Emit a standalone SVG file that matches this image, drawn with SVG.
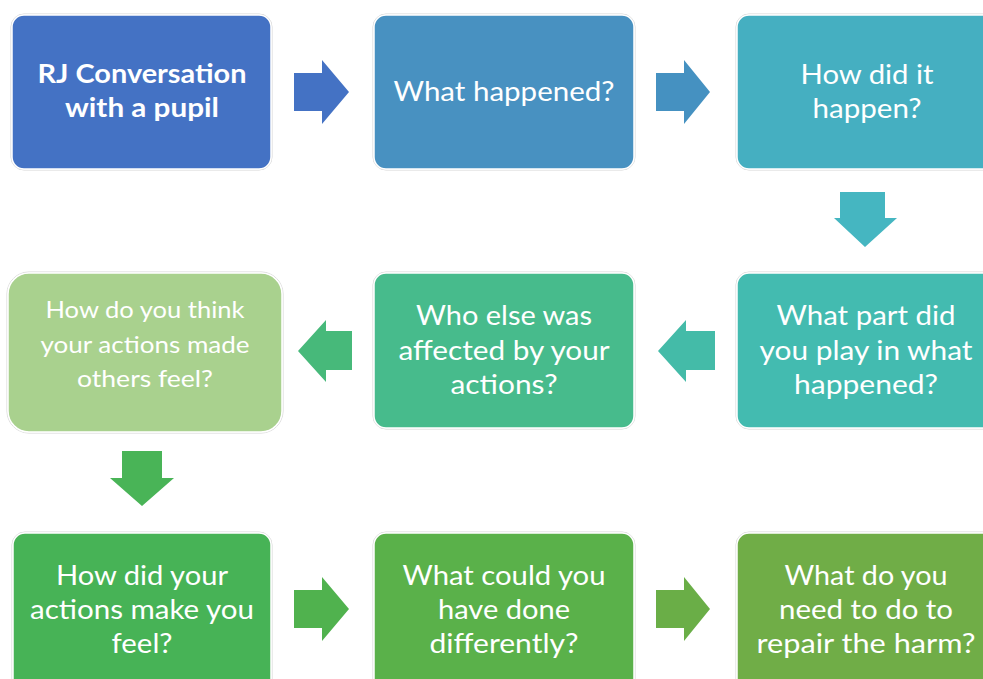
<svg xmlns="http://www.w3.org/2000/svg" width="983" height="679" viewBox="0 0 983 679">
<style>
.box{stroke:#ffffff;stroke-width:1.5}
.halo{fill:none;stroke:#d6d6d6;stroke-width:1}
text{font-family:Lato,"Open Sans","Liberation Sans",sans-serif;fill:#ffffff;text-anchor:middle}
.t{font-size:27px}
.s{font-size:24px}
.b{font-weight:bold;font-size:26px}
</style>
<rect width="983" height="679" fill="#ffffff"/>
<g id="connectors">
<polygon points="294,73 322,73 322,60 349,92 322,124 322,111 294,111" fill="#4472C4"/>
<polygon points="656,73 684,73 684,60 710,92 684,124 684,111 656,111" fill="#4591C1"/>
<polygon points="840,192 885,192 885,218 897,218 865,247 834,218 840,218" fill="#45B6C1"/>
<polygon points="715,331 686,331 686,320 658,351 686,382 686,370 715,370" fill="#44BBA8"/>
<polygon points="352,331 326,331 326,320 298,351 326,382 326,370 352,370" fill="#47B97A"/>
<polygon points="122,451 162,451 162,478 174,478 142,506 110,478 122,478" fill="#49B457"/>
<polygon points="294,590 322,590 322,577 349,609 322,641 322,628 294,628" fill="#50B24E"/>
<polygon points="656,590 684,590 684,577 710,609 684,641 684,628 656,628" fill="#6AAE47"/>
</g>
<g id="n1">
<rect class="halo" x="11" y="14" width="261" height="156" rx="13"/>
<rect class="box" x="12" y="15" width="259" height="154" rx="12" fill="#4472C4"/>
<text class="b" x="142" y="83" textLength="209" lengthAdjust="spacingAndGlyphs">RJ Conversation</text>
<text class="b" x="142" y="117" textLength="154" lengthAdjust="spacingAndGlyphs">with a pupil</text>
</g>
<g id="n2">
<rect class="halo" x="373" y="14" width="262" height="156" rx="13"/>
<rect class="box" x="374" y="15" width="260" height="154" rx="12" fill="#4891C1"/>
<text class="t" x="504" y="101" textLength="221" lengthAdjust="spacingAndGlyphs">What happened?</text>
</g>
<g id="n3">
<rect class="halo" x="736" y="14" width="262" height="156" rx="13"/>
<rect class="box" x="737" y="15" width="260" height="154" rx="12" fill="#45AFC1"/>
<text class="t" x="867" y="84" textLength="133" lengthAdjust="spacingAndGlyphs">How did it</text>
<text class="t" x="867" y="118" textLength="109" lengthAdjust="spacingAndGlyphs">happen?</text>
</g>
<g id="n4">
<rect class="halo" x="7" y="272" width="276" height="161" rx="22"/>
<rect class="box" x="8" y="273" width="274" height="159" rx="21" fill="#A9D18E"/>
<text class="s" x="145" y="318" textLength="199" lengthAdjust="spacingAndGlyphs">How do you think</text>
<text class="s" x="145" y="353" textLength="209" lengthAdjust="spacingAndGlyphs">your actions made</text>
<text class="s" x="145" y="387" textLength="136" lengthAdjust="spacingAndGlyphs">others feel?</text>
</g>
<g id="n5">
<rect class="halo" x="373" y="272" width="262" height="157" rx="13"/>
<rect class="box" x="374" y="273" width="260" height="155" rx="12" fill="#47BB8C"/>
<text class="t" x="504" y="325" textLength="176" lengthAdjust="spacingAndGlyphs">Who else was</text>
<text class="t" x="504" y="360" textLength="211" lengthAdjust="spacingAndGlyphs">affected by your</text>
<text class="t" x="504" y="394" textLength="107" lengthAdjust="spacingAndGlyphs">actions?</text>
</g>
<g id="n6">
<rect class="halo" x="736" y="272" width="262" height="157" rx="13"/>
<rect class="box" x="737" y="273" width="260" height="155" rx="12" fill="#43BBB0"/>
<text class="t" x="866" y="325" textLength="179" lengthAdjust="spacingAndGlyphs">What part did</text>
<text class="t" x="866" y="360" textLength="213" lengthAdjust="spacingAndGlyphs">you play in what</text>
<text class="t" x="866" y="394" textLength="144" lengthAdjust="spacingAndGlyphs">happened?</text>
</g>
<g id="n7">
<rect class="halo" x="12" y="532" width="260" height="160" rx="13"/>
<rect class="box" x="13" y="533" width="258" height="158" rx="12" fill="#47B356"/>
<text class="t" x="142" y="585" textLength="172" lengthAdjust="spacingAndGlyphs">How did your</text>
<text class="t" x="142" y="619" textLength="224" lengthAdjust="spacingAndGlyphs">actions make you</text>
<text class="t" x="142" y="653" textLength="61" lengthAdjust="spacingAndGlyphs">feel?</text>
</g>
<g id="n8">
<rect class="halo" x="373" y="532" width="262" height="160" rx="13"/>
<rect class="box" x="374" y="533" width="260" height="158" rx="12" fill="#5AB14A"/>
<text class="t" x="504" y="585" textLength="203" lengthAdjust="spacingAndGlyphs">What could you</text>
<text class="t" x="504" y="619" textLength="132" lengthAdjust="spacingAndGlyphs">have done</text>
<text class="t" x="504" y="653" textLength="149" lengthAdjust="spacingAndGlyphs">differently?</text>
</g>
<g id="n9">
<rect class="halo" x="736" y="532" width="262" height="160" rx="13"/>
<rect class="box" x="737" y="533" width="260" height="158" rx="12" fill="#70AD47"/>
<text class="t" x="866" y="585" textLength="163" lengthAdjust="spacingAndGlyphs">What do you</text>
<text class="t" x="866" y="619" textLength="174" lengthAdjust="spacingAndGlyphs">need to do to</text>
<text class="t" x="866" y="653" textLength="219" lengthAdjust="spacingAndGlyphs">repair the harm?</text>
</g>
</svg>
